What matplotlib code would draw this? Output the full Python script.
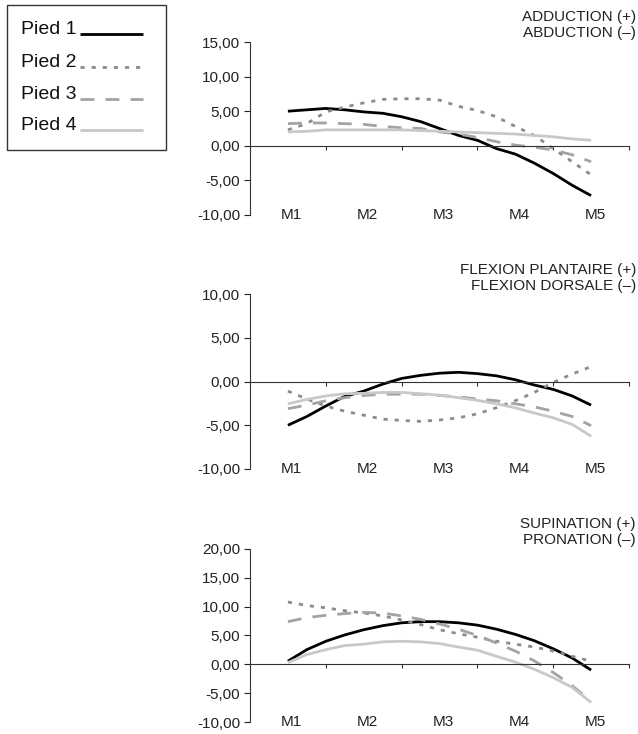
import numpy as np
import matplotlib
matplotlib.use("Agg")
import matplotlib.pyplot as plt
from matplotlib.lines import Line2D
from matplotlib.transforms import blended_transform_factory

plt.rcParams['font.family'] = ['Liberation Sans', 'DejaVu Sans']

categories = ["M1", "M2", "M3", "M4", "M5"]
series_names = ["Pied 1", "Pied 2", "Pied 3", "Pied 4"]

# values read at quarter steps between M1 and M5
adduction = {
    "Pied 1": [5.0, 5.2, 5.4, 5.2, 4.9, 4.7, 4.2, 3.5, 2.5, 1.5, 0.8, -0.4, -1.2, -2.5, -4.0, -5.7, -7.2],
    "Pied 2": [2.3, 3.2, 4.9, 5.6, 6.2, 6.7, 6.8, 6.8, 6.6, 5.7, 5.1, 4.2, 2.8, 1.5, -0.4, -2.3, -4.2],
    "Pied 3": [3.2, 3.3, 3.3, 3.2, 3.1, 2.8, 2.6, 2.5, 2.0, 1.7, 1.2, 0.6, 0.1, -0.2, -0.6, -1.3, -2.3],
    "Pied 4": [2.0, 2.1, 2.3, 2.3, 2.3, 2.3, 2.3, 2.2, 2.1, 2.0, 1.9, 1.8, 1.7, 1.5, 1.3, 1.0, 0.8],
}
flexion = {
    "Pied 1": [-5.0, -4.0, -2.8, -1.7, -1.1, -0.3, 0.35, 0.7, 0.95, 1.05, 0.9, 0.65, 0.2, -0.4, -0.9, -1.65, -2.7],
    "Pied 2": [-1.1, -2.0, -2.8, -3.4, -3.85, -4.3, -4.45, -4.55, -4.4, -4.15, -3.7, -3.0, -2.2, -1.25, -0.1, 0.85, 1.7],
    "Pied 3": [-3.1, -2.7, -2.2, -1.85, -1.6, -1.45, -1.45, -1.45, -1.6, -1.75, -2.0, -2.2, -2.55, -2.9, -3.4, -4.0, -5.05],
    "Pied 4": [-2.55, -2.05, -1.65, -1.4, -1.35, -1.25, -1.25, -1.4, -1.55, -1.85, -2.15, -2.55, -3.0, -3.6, -4.15, -4.9, -6.25],
}
supination = {
    "Pied 1": [0.55, 2.55, 4.0, 5.1, 6.0, 6.7, 7.2, 7.4, 7.4, 7.2, 6.8, 6.1, 5.2, 4.1, 2.7, 1.1, -1.0],
    "Pied 2": [10.8, 10.2, 9.8, 9.3, 8.9, 8.4, 7.7, 6.9, 6.0, 5.3, 4.7, 4.0, 3.5, 3.0, 2.3, 1.4, 0.55],
    "Pied 3": [7.4, 8.1, 8.5, 8.8, 9.0, 8.9, 8.4, 7.8, 7.0, 6.1, 5.0, 3.7, 2.3, 0.6, -1.4, -3.7, -6.4],
    "Pied 4": [0.3, 1.7, 2.55, 3.25, 3.5, 3.9, 4.0, 3.9, 3.6, 3.0, 2.45, 1.4, 0.4, -0.85, -2.3, -4.0, -6.6],
}

panel_titles = [
    "ADDUCTION (+)\nABDUCTION (\u2013)",
    "FLEXION PLANTAIRE (+)\nFLEXION DORSALE (\u2013)",
    "SUPINATION (+)\nPRONATION (\u2013)",
]
panel_ylims = [(-10, 15), (-10, 10), (-10, 20)]

styles = {
    "Pied 1": dict(color="black", lw=2.0, ls="-"),
    "Pied 2": dict(color="#8c8c8c", lw=2.0, ls=(0, (1.5, 2.5))),
    "Pied 3": dict(color="#a3a3a3", lw=2.0, ls=(0, (5, 4))),
    "Pied 4": dict(color="#c8c8c8", lw=2.0, ls="-"),
}

W, H = 638, 734
fig = plt.figure(figsize=(W / 100, H / 100), dpi=100)

# plot area boxes in pixels: (top, bottom)
boxes = [(42, 215), (294, 469), (549, 722)]
title_y = [25, 278, 532]
x_left, x_right = 250, 629

xs = np.arange(17) * 0.25

for data, title, ylim, (top, bot), ty in zip([adduction, flexion, supination],
                                              panel_titles, panel_ylims, boxes, title_y):
    ax = fig.add_axes([x_left / W, 1 - bot / H, (x_right - x_left) / W, (bot - top) / H])
    for name in series_names:
        ax.plot(xs, data[name], solid_capstyle="butt", dash_capstyle="butt", **styles[name])
    ax.set_xlim(-0.5, 4.5)
    ax.set_ylim(*ylim)
    ticks = np.arange(ylim[0], ylim[1] + 1, 5)
    ax.set_yticks(ticks)
    ax.set_yticklabels([f"{v:.2f}".replace(".", ",") for v in ticks])
    ax.tick_params(axis="y", direction="out", length=4, width=0.8, pad=3, labelsize=11, colors="#222222")
    ax.spines["top"].set_visible(False)
    ax.spines["right"].set_visible(False)
    ax.spines["left"].set_color("#333333")
    ax.spines["left"].set_linewidth(0.8)
    ax.spines["bottom"].set_position(("data", 0))
    ax.spines["bottom"].set_color("#333333")
    ax.spines["bottom"].set_linewidth(0.8)
    ax.set_xticks(np.arange(0.5, 4.6, 1.0))
    ax.set_xticklabels([])
    ax.tick_params(axis="x", direction="out", length=3, width=0.8, colors="#333333")
    trans = blended_transform_factory(ax.transData, ax.transAxes)
    for i, c in enumerate(categories):
        ax.text(i + 0.05, 0.0, c, transform=trans, ha="center", va="center", fontsize=11, color="#222222")
    ax.patch.set_visible(False)
    fig.text(636 / W, 1 - ty / H, title, ha="right", va="center", fontsize=11,
             color="#222222", linespacing=1.1)

# legend box
fig.patches.append(plt.Rectangle((7 / W, 1 - 150 / H), 159 / W, 145 / H, transform=fig.transFigure,
                                 fill=False, edgecolor="#333333", lw=1.0))
legend_y = [34, 67, 99, 130]
for name, ly in zip(series_names, legend_y):
    fig.text(21 / W, 1 - ly / H, name, ha="left", va="baseline", fontsize=14, color="#111111")
    fig.add_artist(Line2D([80 / W, 143 / W], [1 - ly / H, 1 - ly / H], transform=fig.transFigure,
                          solid_capstyle="butt", dash_capstyle="butt", **styles[name]))

fig.savefig("out.png", dpi=100)
